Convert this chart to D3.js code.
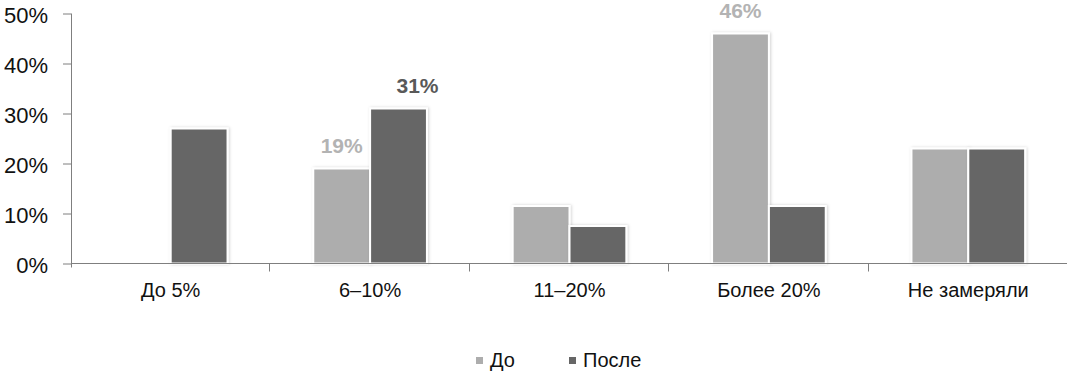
<!DOCTYPE html>
<html>
<head>
<meta charset="utf-8">
<script src="https://cdn.jsdelivr.net/npm/d3@7"></script>
<style>
  body { margin: 0; background: #fff; }
  svg { display: block; font-family: "Liberation Sans", Arial, sans-serif; }
</style>
</head>
<body>
<div id="chart"></div>
<script>
// categories and series
var categories = ["До 5%", "6–10%", "11–20%", "Более 20%", "Не замеряли"];
var seriesNames = ["До", "После"];
var valuesBefore = [0, 19, 11.5, 46, 23];
var valuesAfter = [27, 31, 7.5, 11.5, 23];
// data labels shown on a few bars only
var labelsBefore = [null, "19%", null, "46%", null];
var labelsAfter = [null, "31%", null, null, null];
var yTicks = [0, 10, 20, 30, 40, 50];

var colors = { "До": "#adadad", "После": "#666666" };
var labelColors = { "До": "#b3b3b3", "После": "#595959" };

var width = 1067, height = 372;

var svg = d3.select("#chart").append("svg")
    .attr("width", width)
    .attr("height", height);

// soft shadow behind the bars
var defs = svg.append("defs");
var filter = defs.append("filter")
    .attr("id", "shadow")
    .attr("x", "-20%").attr("y", "-20%")
    .attr("width", "140%").attr("height", "140%");
filter.append("feDropShadow")
    .attr("dx", 1).attr("dy", 0)
    .attr("stdDeviation", 1.5)
    .attr("flood-color", "#000")
    .attr("flood-opacity", 0.18);

// scales
var x = d3.scaleBand()
    .domain(categories)
    .range([71, 1068])
    .paddingInner(0.43)
    .paddingOuter(0.215);

var xs = d3.scaleBand()
    .domain(seriesNames)
    .range([0, x.bandwidth()]);

var y = d3.scaleLinear()
    .domain([0, 50])
    .range([263.5, 13.5]);

var rows = categories.map(function (c, i) {
    return {
        cat: c,
        bars: [
            { s: "До", v: valuesBefore[i], label: labelsBefore[i] },
            { s: "После", v: valuesAfter[i], label: labelsAfter[i] }
        ]
    };
});

// bars
var group = svg.selectAll("g.cat")
    .data(rows)
    .enter().append("g")
    .attr("class", "cat")
    .attr("transform", function (d) { return "translate(" + x(d.cat) + ",0)"; });

group.selectAll("rect")
    .data(function (d) { return d.bars.filter(function (b) { return b.v > 0; }); })
    .enter().append("rect")
    .attr("x", function (d) { return xs(d.s); })
    .attr("y", function (d) { return y(d.v); })
    .attr("width", xs.bandwidth())
    .attr("height", function (d) { return y(0) - y(d.v); })
    .attr("fill", function (d) { return colors[d.s]; })
    .attr("stroke", "#fff")
    .attr("stroke-width", 2)
    .attr("filter", "url(#shadow)");

// data labels (the 31% label sits a little to the right in the original)
var labelNudge = { "6–10%|После": 19 };
group.each(function (row) {
    d3.select(this).selectAll("text.val")
        .data(row.bars.filter(function (b) { return b.label; }))
        .enter().append("text")
        .attr("class", "val")
        .attr("x", function (d) {
            return xs(d.s) + xs.bandwidth() / 2 + (labelNudge[row.cat + "|" + d.s] || 0);
        })
        .attr("y", function (d) { return y(d.v) - 15.5; })
        .attr("text-anchor", "middle")
        .style("font-size", "21px")
        .style("font-weight", "bold")
        .attr("fill", function (d) { return labelColors[d.s]; })
        .text(function (d) { return d.label; });
});

// y axis
var yAxis = d3.axisLeft(y)
    .tickValues(yTicks)
    .tickSize(8)
    .tickSizeOuter(0)
    .tickPadding(15)
    .tickFormat(function (d) { return d + "%"; });

var yg = svg.append("g")
    .attr("transform", "translate(71,0)")
    .call(yAxis);
yg.select(".domain").remove();
yg.selectAll(".tick line").attr("stroke", "#7f7f7f");
yg.selectAll(".tick text")
    .attr("dy", "0.4em")
    .style("font-size", "22px")
    .attr("fill", "#111");

svg.append("line")
    .attr("x1", 71.5).attr("x2", 71.5)
    .attr("y1", y(50)).attr("y2", y(0) + 4)
    .attr("stroke", "#7f7f7f");

// x axis with tick marks between categories
var x0 = x.range()[0], step = x.step();
svg.append("line")
    .attr("x1", x0).attr("x2", x.range()[1])
    .attr("y1", y(0)).attr("y2", y(0))
    .attr("stroke", "#7f7f7f");

svg.selectAll("line.xtick")
    .data(d3.range(1, categories.length + 1))
    .enter().append("line")
    .attr("class", "xtick")
    .attr("x1", function (i) { return Math.round(x0 + i * step) - 0.5; })
    .attr("x2", function (i) { return Math.round(x0 + i * step) - 0.5; })
    .attr("y1", y(0)).attr("y2", y(0) + 8)
    .attr("stroke", "#7f7f7f");

svg.selectAll("text.cat")
    .data(categories)
    .enter().append("text")
    .attr("class", "cat")
    .attr("x", function (d) { return x(d) + x.bandwidth() / 2; })
    .attr("y", 297)
    .attr("text-anchor", "middle")
    .style("font-size", "20px")
    .attr("fill", "#111")
    .text(function (d) { return d; });

// legend
var legendX = [476, 569];
var legend = svg.selectAll("g.legend")
    .data(seriesNames)
    .enter().append("g")
    .attr("class", "legend")
    .attr("transform", function (d, i) { return "translate(" + legendX[i] + ",357)"; });

legend.append("rect")
    .attr("width", 7).attr("height", 7)
    .attr("fill", function (d) { return colors[d]; });

legend.append("text")
    .attr("x", 14)
    .attr("y", 9.5)
    .style("font-size", "20px")
    .attr("fill", "#111")
    .text(function (d) { return d; });
</script>
</body>
</html>
